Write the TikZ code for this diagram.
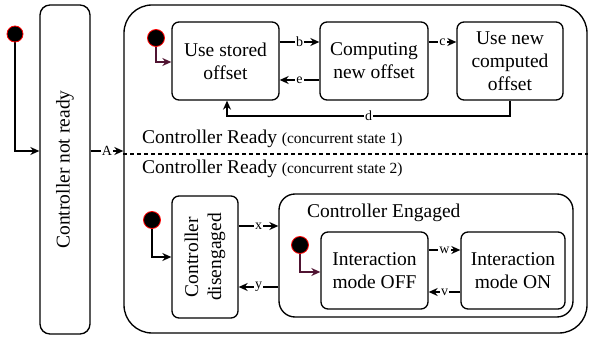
\documentclass[tikz,border=0pt]{standalone}
\usepackage{fontspec}
\setmainfont{Liberation Serif}
\usetikzlibrary{arrows.meta}
\definecolor{initline}{RGB}{80,20,50}
\begin{document}
\begin{tikzpicture}[x=1pt,y=-1pt,
  every node/.style={font=\rmfamily\fontsize{19.5}{23}\selectfont},
  state/.style={draw,line width=1.35pt,rounded corners=7pt,align=center,inner sep=0pt},
  initdot/.style={circle,fill=black,draw=red,line width=0.8pt,minimum size=17pt,inner sep=0pt},
  arr/.style={line width=1.35pt,-{Stealth[length=9pt,width=8pt,inset=3pt]}},
  lbl/.style={fill=white,inner sep=1pt,font=\rmfamily\fontsize{14}{14}\selectfont},
  ttl/.style={anchor=base west,inner sep=0pt}]
\useasboundingbox (0,0) rectangle (590,342);

% outer states
\node[state,rounded corners=10pt,minimum width=50pt,minimum height=329pt] (notready) at (65,169.5) {};
\node[rotate=90] at (notready.center) {Controller not ready};
\node[state,rounded corners=28pt,minimum width=463pt,minimum height=328pt] (ready) at (355.5,169) {};

% region separator and titles
\draw[line width=1.1pt,dash pattern=on 4pt off 3pt] (ready.west |- 0,154) -- (ready.east |- 0,154);
\node[ttl] (t1) at (142,144) {Controller Ready {\fontsize{15.5}{16}\selectfont (concurrent state 1)}};
\node[ttl] (t2) at (142,174) {Controller Ready {\fontsize{15.5}{16}\selectfont (concurrent state 2)}};

% region 1
\node[state,minimum width=107pt,minimum height=78pt] (stored) at (225.5,61) {Use stored\\offset};
\node[state,minimum width=108pt,minimum height=78pt] (comp) at (374,61) {Computing\\new offset};
\node[state,minimum width=106pt,minimum height=78pt] (usenew) at (510,61) {Use new\\computed\\offset};

% region 2
\node[state,minimum width=66pt,minimum height=122pt] (diseng) at (205,257) {};
\node[rotate=90,align=center] at (diseng.center) {Controller\\disengaged};
\node[state,rounded corners=16pt,minimum width=294pt,minimum height=123pt] (engaged) at (426,255.5) {};
\node[ttl] (t3) at (307,218) {Controller Engaged};
\node[state,minimum width=107pt,minimum height=77pt] (off) at (374.5,270.5) {Interaction\\mode OFF};
\node[state,minimum width=104pt,minimum height=77pt] (on) at (513,270.5) {Interaction\\mode ON};

% initial pseudostates
\coordinate (d0) at (15,34);
\coordinate (d1) at (156,38);
\coordinate (d2) at (152,220);
\coordinate (d3) at (300,245);
\draw[arr] (d0) -- (d0 |- 0,151) -- (notready.west |- 0,151);
\draw[arr,initline] (d1) -- (d1 |- 0,62) -- (stored.west |- 0,62);
\draw[arr] (d2) -- (d2 |- 0,257) -- (diseng.west |- 0,257);
\draw[arr,initline] (d3) -- (d3 |- 0,272) -- (off.west |- 0,272);
\node[initdot,minimum size=16pt] (i0) at (d0) {};
\node[initdot] (i1) at (d1) {};
\node[initdot] (i2) at (d2) {};
\node[initdot] (i3) at (d3) {};

% transitions
\draw[arr] (notready.east |- 0,151) -- node[lbl] {A} (ready.west |- 0,151);
\draw[arr] (stored.east |- 0,42) -- node[lbl] {b} (comp.west |- 0,42);
\draw[arr] (comp.west |- 0,80) -- node[lbl] {e} (stored.east |- 0,80);
\draw[arr] (comp.east |- 0,42) -- node[lbl] {c} (usenew.west |- 0,42);
\coordinate (dR) at (usenew.south |- 0,116);
\coordinate (dL) at (227,116);
\draw[arr] (usenew.south) -- (dR) -- node[lbl] {d} (dL) -- (dL |- stored.south);
\draw[arr] (diseng.east |- 0,226) -- node[lbl] {x} (engaged.west |- 0,226);
\draw[arr] (engaged.west |- 0,287) -- node[lbl] {y} (diseng.east |- 0,287);
\draw[arr] (off.east |- 0,250) -- node[lbl] {w} (on.west |- 0,250);
\draw[arr] (on.west |- 0,292) -- node[lbl] {v} (off.east |- 0,292);
\end{tikzpicture}
\end{document}
